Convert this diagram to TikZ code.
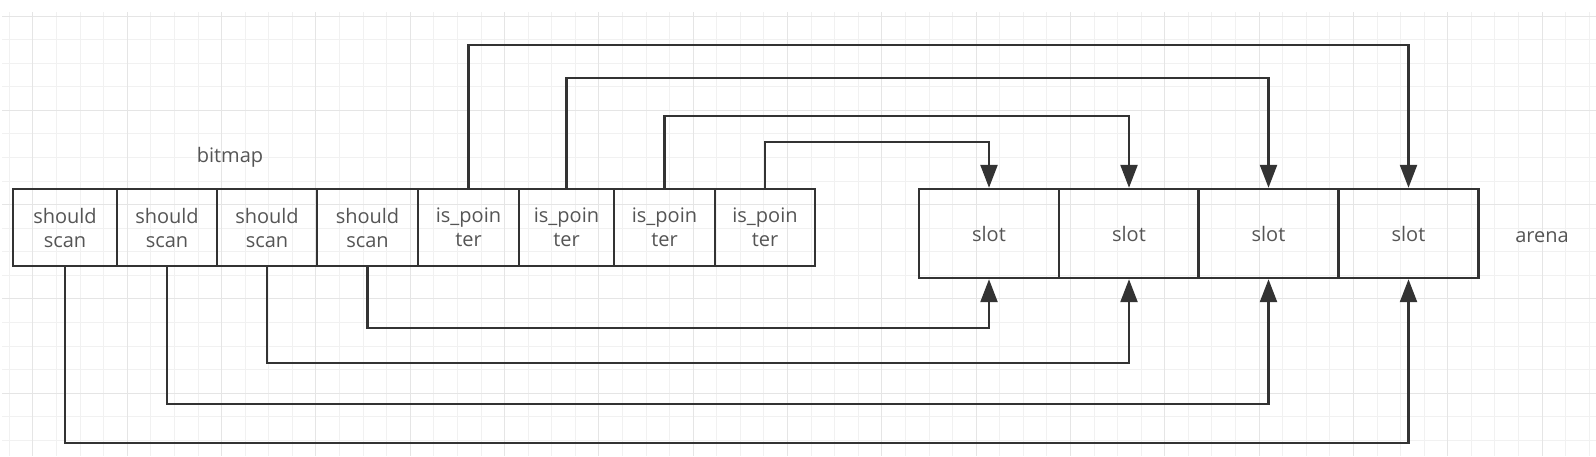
\documentclass[tikz,border=0pt]{standalone}
\usepackage{fontspec}
\setmainfont{Open Sans}
\usepackage{tikz}
\usetikzlibrary{positioning}
\usetikzlibrary{arrows.meta}
\definecolor{gridminor}{HTML}{F1F1F1}
\definecolor{gridmajor}{HTML}{E5E5E5}
\definecolor{ink}{HTML}{333333}
\definecolor{txt}{HTML}{555555}
\tikzstyle{cell}=[rectangle,draw=ink,line width=1.2pt,minimum height=38.5pt,inner sep=0pt,align=center,font=\fontsize{10}{12}\selectfont,text=txt]
\tikzstyle{slotbox}=[cell,minimum width=70pt,minimum height=44.5pt]
\tikzstyle{link}=[draw=ink,line width=1.2pt,-{Triangle[length=11.5pt,width=8.5pt]}]
\tikzstyle{boxname}=[font=\fontsize{10}{12}\selectfont,text=txt]

\begin{document}
\begin{tikzpicture}[x=0.5pt,y=-0.5pt]
  \useasboundingbox (0,0) rectangle (1596,456);

  \def\g{23.58};

  % background grid
  \foreach \k in {0,...,67}
     \draw[gridminor,line width=0.5pt] (9.4+\k*\g,12) -- (9.4+\k*\g,456);
  \foreach \k in {0,...,18}
     \draw[gridminor,line width=0.5pt] (2,16+\k*\g) -- (1596,16+\k*\g);
  \foreach \k in {1,5,...,65}
     \draw[gridmajor,line width=0.5pt] (9.4+\k*\g,12) -- (9.4+\k*\g,456);
  \foreach \k in {0,4,...,16}
     \draw[gridmajor,line width=0.5pt] (2,16+\k*\g) -- (1596,16+\k*\g);

  % bitmap
  \foreach \x/\w/\name/\lbl in {65/104/b1/{should\\scan}, 167/100/b2/{should\\scan}, 267/100/b3/{should\\scan}, 367.5/101/b4/{should\\scan},
                               468.5/101/p1/{is\_poin\\ter}, 566.5/95/p2/{is\_poin\\ter}, 664.5/101/p3/{is\_poin\\ter}, 765/100/p4/{is\_poin\\ter}}
         \node[cell,minimum width=\w*0.5pt] (\name) at (\x,227.5) {\lbl};

  % arena
  \foreach \x/\name in {989/s1, 1129/s2, 1268.5/s3, 1408.5/s4}
         \node[slotbox] (\name) at (\x,233.5) {slot};

  \node[boxname] (bitmap) at (230,157) {bitmap};
  \node[boxname] (arena) at (1542,237) {arena};

  \foreach \source/\dest/\h in {p1/s4/143, p2/s3/110, p3/s2/72, p4/s1/46}
         \path[link] (\source.north) -- ++(0,-\h) -| (\dest.north);

  \foreach \source/\dest/\h in {b1/s4/176, b2/s3/137, b3/s2/96, b4/s1/61}
         \path[link] (\source.south) -- ++(0,\h) -| (\dest.south);

\end{tikzpicture}
\end{document}
